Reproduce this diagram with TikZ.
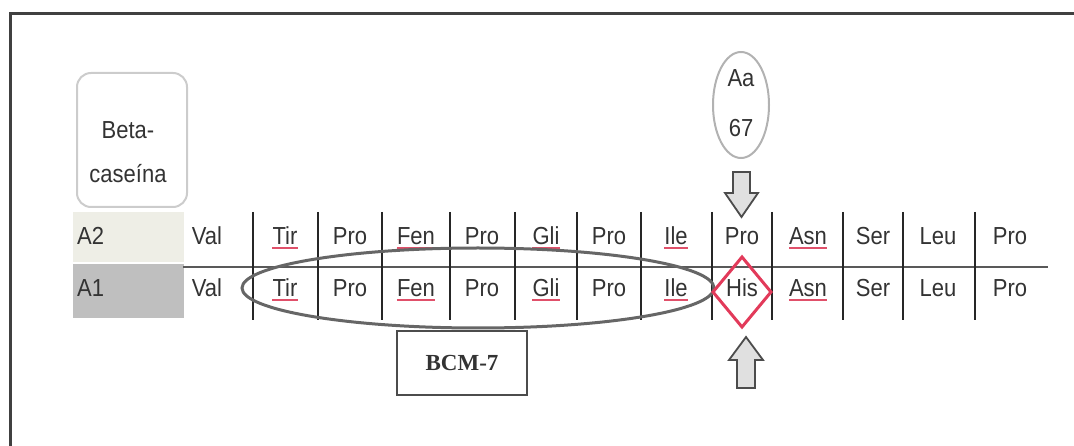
\documentclass[tikz,border=0pt]{standalone}
\usepackage{fontspec}
\setmainfont{Liberation Sans}
\newfontfamily\timesfont{Liberation Serif}
\usetikzlibrary{shapes.geometric}
\definecolor{txt}{HTML}{333333}
\definecolor{spell}{HTML}{E0506A}
\definecolor{dia}{HTML}{E23A5A}
\definecolor{beige}{HTML}{EEEEE6}
\definecolor{cellgray}{HTML}{BFBFBF}
\tikzset{
  aa/.style={text=txt, font=\fontsize{22}{24}\selectfont, inner sep=0pt, anchor=center},
  sep/.style={draw=black!85, line width=1.5pt},
  squig/.style={draw=spell, line width=1.6pt},
  blockarrow/.style={draw=black!70, fill=black!12, line width=1.8pt, line join=miter},
}
\begin{document}
\begin{tikzpicture}[x=1pt,y=-1pt]
\useasboundingbox (0,0) rectangle (1074,446);
% frame (top and left only)
\draw[line width=3pt, black!75] (10,446) -- (10,14) -- (1074,14);
% Beta-caseina box
\draw[draw=black!20, line width=2pt, rounded corners=14pt] (77,73) rectangle (187,207);
\node[aa, align=center] (beta) at (128,152) {\scalebox{1}[1.12]{Beta-}\\[20pt]\scalebox{1}[1.12]{caseína}};
% row headers
\fill[beige] (73,212) rectangle (184,262);
\fill[cellgray] (73,264) rectangle (184,318);
\node[aa, anchor=west] (a2) at (77,236) {\scalebox{1}[1.12]{A2}};
\node[aa, anchor=west] (a1) at (77,288) {\scalebox{1}[1.12]{A1}};
% horizontal line
\draw[draw=black!65, line width=2pt] (183,267) -- (1048,267);
% separators
\foreach \x in {253,318,382,450,515,577,641,712,772,843,903,975}
  \draw[sep] (\x,212) -- (\x,320);
% residues
\foreach \n/\x/\t in {1/207/Val,2/285/Tir,3/350/Pro,4/416/Fen,5/482/Pro,6/546/Gli,7/609/Pro,8/676/Ile,9/742/Pro,10/808/Asn,11/873/Ser,12/938/Leu,13/1010/Pro}
  \node[aa] (u\n) at (\x,236) {\scalebox{1}[1.12]{\t}};
\foreach \n/\x/\t in {1/207/Val,2/285/Tir,3/350/Pro,4/416/Fen,5/482/Pro,6/546/Gli,7/609/Pro,8/676/Ile,9/742/His,10/808/Asn,11/873/Ser,12/938/Leu,13/1010/Pro}
  \node[aa] (l\n) at (\x,288) {\scalebox{1}[1.12]{\t}};
% spell-check underlines
\foreach \n in {2,4,5,6,8,10}
  \draw[squig] ([yshift=-3pt]u\n.south west) -- ([yshift=-3pt]u\n.south east);
\foreach \n in {2,4,6,8,10}
  \draw[squig] ([yshift=-3pt]l\n.south west) -- ([yshift=-3pt]l\n.south east);
% BCM-7 ellipse
\node[draw=black!60, line width=3pt, ellipse, minimum width=472pt, minimum height=80pt, inner sep=0pt] (bcmell) at (478,288) {};
% His diamond
\draw[dia, line width=3pt] (742,257) -- (771,292) -- (742,327) -- (713,292) -- cycle;
% Aa 67 ellipse
\node[draw=black!30, line width=2pt, ellipse, minimum width=56pt, minimum height=106pt, inner sep=0pt] (aa67) at (741,105) {};
\node[aa] (aatxt) at (741,78) {\scalebox{1}[1.12]{Aa}};
\node[aa] (n67) at (741,128) {\scalebox{1}[1.12]{67}};
% down arrow
\draw[blockarrow] (733,172) -- (750,172) -- (750,193) -- (758,193) -- (741.5,217) -- (725,193) -- (733,193) -- cycle;
% up arrow
\draw[blockarrow] (737,388) -- (755,388) -- (755,360) -- (763,360) -- (746,337) -- (729,360) -- (737,360) -- cycle;
% BCM-7 box
\node[draw=black!70, line width=2pt, minimum width=130pt, minimum height=63pt, inner sep=0pt, text=txt, font=\timesfont\bfseries\fontsize{23}{25}\selectfont] (bcm) at (462,363) {BCM-7};
\end{tikzpicture}
\end{document}
